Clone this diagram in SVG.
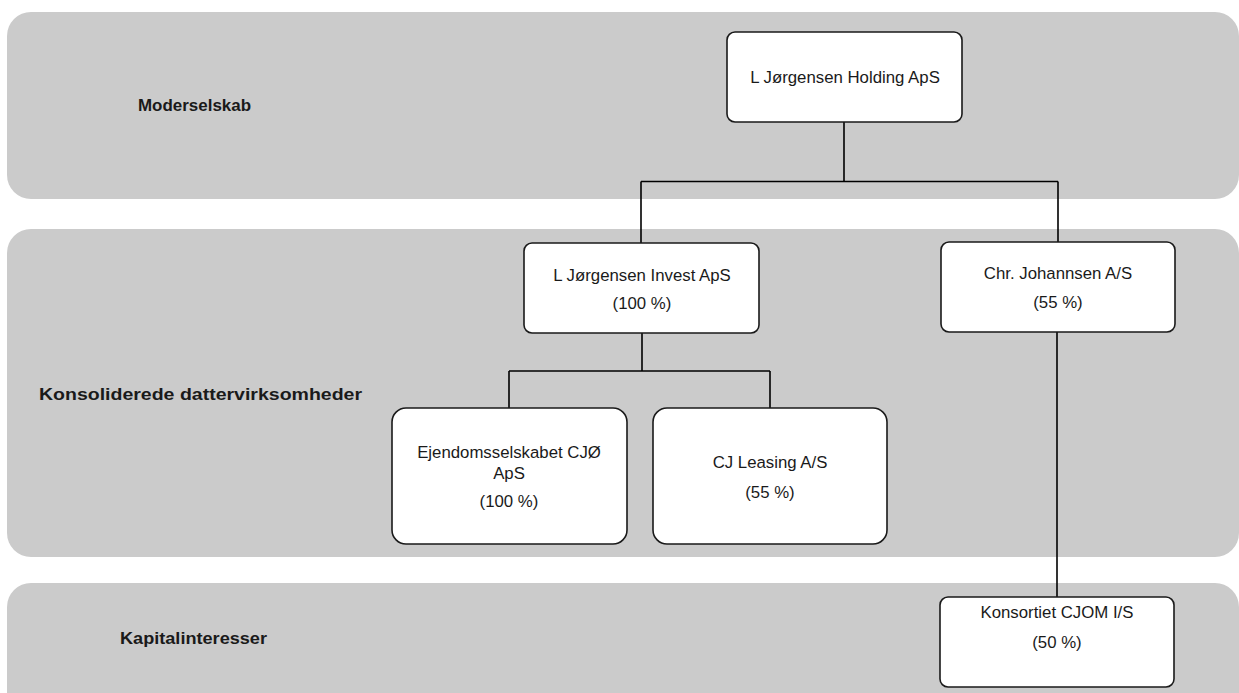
<svg xmlns="http://www.w3.org/2000/svg" width="1239" height="693" viewBox="0 0 1239 693">
<style>
.band{fill:#cbcbcb}
.box{fill:#ffffff;stroke:#1a1a1a;stroke-width:1.6}
.lbl{font-family:"Liberation Sans",Arial,sans-serif;font-weight:bold;font-size:17px;fill:#1a1a1a}
.txt{font-family:"Liberation Sans",Arial,sans-serif;font-size:16.8px;fill:#1a1a1a;text-anchor:middle}
.con{fill:none;stroke:#000;stroke-width:1.6}
</style>
<rect width="1239" height="693" fill="#ffffff"/>
<g id="bands">
<rect class="band" x="7" y="12" width="1232" height="187" rx="24"/>
<rect class="band" x="7" y="229" width="1232" height="328" rx="24"/>
<rect class="band" x="7" y="583" width="1232" height="140" rx="24"/>
</g>
<g id="labels">
<text class="lbl" x="138" y="111" textLength="113" lengthAdjust="spacingAndGlyphs">Moderselskab</text>
<text class="lbl" x="39" y="400" textLength="323" lengthAdjust="spacingAndGlyphs">Konsoliderede dattervirksomheder</text>
<text class="lbl" x="120" y="644" textLength="147" lengthAdjust="spacingAndGlyphs">Kapitalinteresser</text>
</g>
<g id="connectors">
<path class="con" d="M844 122 V181.5 M641 181.5 H1058 M641 181.5 V243 M1058 181.5 V242"/>
<path class="con" d="M642 333 V371 M509 371 H770 M509 371 V408 M770 371 V408"/>
<path class="con" d="M1057 332 V597"/>
</g>
<g id="node-holding">
<rect class="box" x="727" y="32" width="235" height="90" rx="8"/>
<text class="txt" x="845" y="83">L Jørgensen Holding ApS</text>
</g>
<g id="node-invest">
<rect class="box" x="524" y="243" width="235" height="90" rx="8"/>
<text class="txt" x="642" y="281">L Jørgensen Invest ApS</text>
<text class="txt" x="642" y="309">(100 %)</text>
</g>
<g id="node-chr">
<rect class="box" x="941" y="242" width="234" height="90" rx="8"/>
<text class="txt" x="1058" y="279">Chr. Johannsen A/S</text>
<text class="txt" x="1058" y="308">(55 %)</text>
</g>
<g id="node-ejendom">
<rect class="box" x="392" y="408" width="235" height="136" rx="14"/>
<text class="txt" x="509" y="458">Ejendomsselskabet CJØ</text>
<text class="txt" x="509" y="479">ApS</text>
<text class="txt" x="509" y="507">(100 %)</text>
</g>
<g id="node-leasing">
<rect class="box" x="653" y="408" width="234" height="136" rx="14"/>
<text class="txt" x="770" y="468">CJ Leasing A/S</text>
<text class="txt" x="770" y="498">(55 %)</text>
</g>
<g id="node-konsortiet">
<rect class="box" x="940" y="597" width="234" height="90" rx="8"/>
<text class="txt" x="1057" y="618">Konsortiet CJOM I/S</text>
<text class="txt" x="1057" y="648">(50 %)</text>
</g>
</svg>
